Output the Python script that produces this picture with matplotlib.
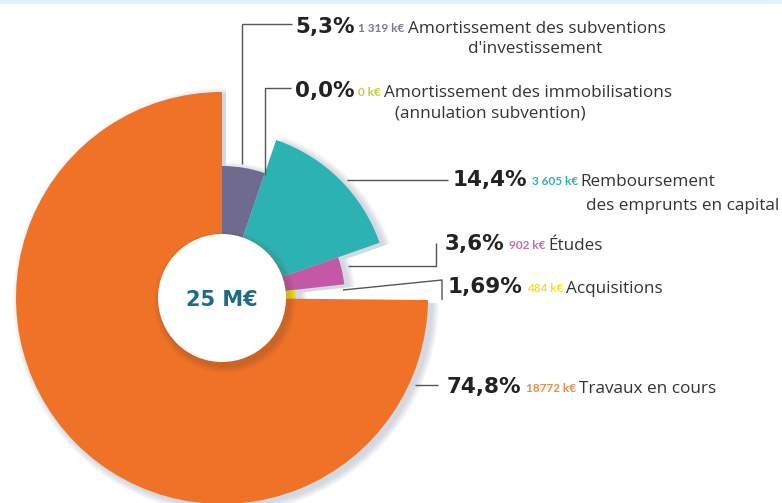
import matplotlib
matplotlib.use("Agg")
import matplotlib.pyplot as plt
from matplotlib.patches import Wedge, Circle, Rectangle

# ---------------- data ----------------
descriptions = [
    ["Amortissement des subventions", "d'investissement"],
    ["Amortissement des immobilisations", "(annulation subvention)"],
    ["Remboursement", "des emprunts en capital"],
    ["Études"],
    ["Acquisitions"],
    ["Travaux en cours"],
]
values_k = [1319, 0, 3605, 902, 484, 18772]
value_labels = ["1 319 k€", "0 k€", "3 605 k€", "902 k€", "484 k€", "18772 k€"]
pct_labels = ["5,3%", "0,0%", "14,4%", "3,6%", "1,69%", "74,8%"]
total_label = "25 M€"

# ---------------- style / layout ----------------
colors = ["#6f6a8f", "#b7d43a", "#2cb2b3", "#c258a6", "#f3e31f", "#f07226"]
val_colors = ["#7a7594", "#b7d43a", "#2cb2b3", "#c869b3", "#f3e31f", "#ef8a4a"]
radii = [132, 0, 167, 123, 74, 206]
center = (222, 298)
hole_r = 64
desc_font = "Open Sans"
desc_size = 12.3
pct_font = "DejaVu Sans"
pct_size = 15.5

W, H = 782, 503
fig = plt.figure(figsize=(W / 100, H / 100), dpi=100)
ax = fig.add_axes([0, 0, 1, 1])
ax.set_xlim(0, W)
ax.set_ylim(H, 0)
ax.set_aspect("equal")
ax.axis("off")

ax.add_patch(Rectangle((0, 0), W, 4, color="#dff5fa", lw=0, zorder=0))

total = sum(values_k)
# angles clockwise from 12 o'clock; with inverted y, data angle = cw - 90
starts = []
acc = 0.0
for v in values_k:
    starts.append(acc)
    acc += v / total * 360.0

# shadow
for i, v in enumerate(values_k):
    if v == 0:
        continue
    a0 = starts[i] - 90
    a1 = starts[i] + v / total * 360.0 - 90
    for k in range(7):
        ax.add_patch(Wedge((center[0] + 4, center[1] + 3), radii[i] + 1 + k, a0, a1,
                           color="#6b7d99", alpha=0.045, lw=0, zorder=1))

for i, v in enumerate(values_k):
    if v == 0:
        continue
    a0 = starts[i] - 90
    a1 = starts[i] + v / total * 360.0 - 90
    ax.add_patch(Wedge(center, radii[i], a0, a1, color=colors[i], lw=0, zorder=2))

# centre hole with shadow
for k in range(7):
    ax.add_patch(Circle((center[0] + 3, center[1] + 4), hole_r + 1 + k,
                        color="#6a4a30", alpha=0.04, lw=0, zorder=3))
ax.add_patch(Circle(center, hole_r, color="white", lw=0, zorder=4))
ax.text(center[0], center[1] + 2, total_label, ha="center", va="center",
        fontsize=15, fontweight="bold", family=pct_font, color="#1d6b8b", zorder=5)

# leader lines
leaders = [
    [(292, 24), (242, 24), (242, 164)],
    [(291, 88), (265, 88), (265, 175)],
    [(448, 180), (347, 180)],
    [(436, 243), (436, 266), (348, 266)],
    [(442, 300), (442, 280), (343, 290)],
    [(415, 385), (438, 385)],
]
for pts in leaders:
    xs = [p[0] for p in pts]
    ys = [p[1] for p in pts]
    ax.plot(xs, ys, color="#555555", lw=1.0, zorder=6, solid_capstyle="butt")

# labels
lab_x = [295, 295, 453, 445, 448, 447]
lab_y = [33, 97, 186, 250, 293, 393]
line2_x = [535, 490, 779]
line2_ha = ["center", "center", "right"]
line2_y = [53, 117, 210]

fig.canvas.draw()
renderer = fig.canvas.get_renderer()


def width_of(t):
    bb = t.get_window_extent(renderer=renderer)
    return bb.width


for i in range(len(values_k)):
    x = lab_x[i]
    y = lab_y[i]
    t = ax.text(x, y, pct_labels[i], fontsize=pct_size, fontweight="bold", family=pct_font,
                color="#222222", va="baseline", ha="left", zorder=7)
    x += width_of(t) + 4
    t = ax.text(x, y - 1, value_labels[i], fontsize=8.5, fontweight="bold", family="Lato",
                color=val_colors[i], va="baseline", ha="left", zorder=7)
    x += width_of(t) + 3
    ax.text(x, y, descriptions[i][0], fontsize=desc_size, family=desc_font, color="#333333",
            va="baseline", ha="left", zorder=7)
    if len(descriptions[i]) > 1:
        ax.text(line2_x[i], line2_y[i], descriptions[i][1], fontsize=desc_size,
                family=desc_font, color="#333333", va="baseline", ha=line2_ha[i], zorder=7)

fig.savefig("out.png", dpi=100, facecolor="white")
